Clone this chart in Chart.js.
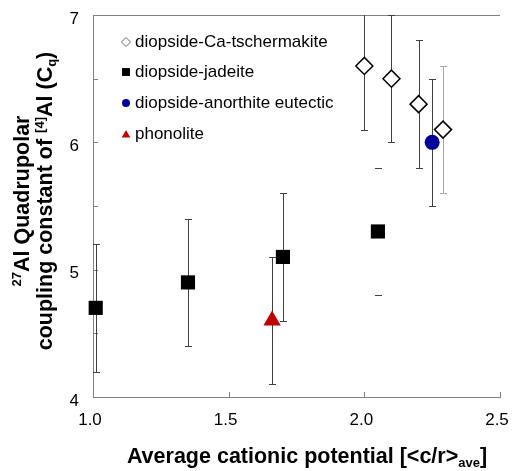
<!DOCTYPE html>
<html><head><meta charset="utf-8">
<script src="https://cdn.jsdelivr.net/npm/chart.js@4/dist/chart.umd.min.js"></script>
<style>html,body{margin:0;padding:0;background:#fff}#wrap{width:512px;height:471px}</style>
</head><body><div id="wrap"><canvas id="c" width="512" height="471"></canvas></div>
<script>
const seriesLabels = ['diopside-Ca-tschermakite', 'diopside-jadeite', 'diopside-anorthite eutectic', 'phonolite'];
const ctsX = [2.00, 2.10, 2.20, 2.29];
const ctsY = [6.6, 6.5, 6.3, 6.1];
const ctsErr = [0.5, 0.5, 0.5, 0.5];
const jadX = [1.01, 1.35, 1.70, 2.05];
const jadY = [4.7, 4.9, 5.1, 5.3];
const jadErr = [0.5, 0.5, 0.5, 0.5];
const anX = [2.25];
const anY = [6.0];
const anErr = [0.5];
const phX = [1.66];
const phY = [4.6];
const phErr = [0.5];
const xTickLabels = ['1.0', '1.5', '2.0', '2.5'];
const yTickLabels = ['4', '5', '6', '7'];

const pts = (xs, ys) => xs.map((v, i) => ({x: v, y: ys[i]}));
const FONT = '"Liberation Sans", Arial, sans-serif';
const AXIS_COL = '#808080';

const datasets = [
  {label: seriesLabels[0], data: pts(ctsX, ctsY), errors: ctsErr,
   errColors: [null, null, null, '#a6a6a6'],
   pointStyle: 'rectRot', pointRadius: 8.5, backgroundColor: '#ffffff', borderColor: '#000000', borderWidth: 1.5,
   legendStyle: {pointStyle: 'rectRot', radius: 4.5, fill: '#ffffff', stroke: '#666666', borderWidth: 1}},
  {label: seriesLabels[1], data: pts(jadX, jadY), errors: jadErr,
   noStem: [false, false, false, true],
   pointStyle: 'rect', pointRadius: 10, backgroundColor: '#000000', borderColor: '#000000', borderWidth: 0,
   legendStyle: {pointStyle: 'rect', radius: 5.6, fill: '#000000', stroke: '#000000', borderWidth: 0}},
  {label: seriesLabels[2], data: pts(anX, anY), errors: anErr,
   pointStyle: 'circle', pointRadius: 7.5, backgroundColor: '#00009c', borderColor: '#00009c', borderWidth: 0,
   legendStyle: {pointStyle: 'circle', radius: 4, fill: '#00009c', stroke: '#00009c', borderWidth: 0}},
  {label: seriesLabels[3], data: pts(phX, phY), errors: phErr,
   pointStyle: 'triangle', pointRadius: 10, backgroundColor: '#c00000', borderColor: '#c00000', borderWidth: 0,
   legendStyle: {pointStyle: 'triangle', radius: 5, fill: '#c00000', stroke: '#c00000', borderWidth: 0}}
].map(d => Object.assign(d, {clip: false}));

function drawRich(ctx, parts, base, cx, cy) {
  const fontFor = m => (m === 'n' ? `bold ${base}px ${FONT}` : `bold ${Math.round(base * 0.62)}px ${FONT}`);
  let total = 0;
  const widths = parts.map(p => { ctx.font = fontFor(p.mode); const w = ctx.measureText(p.t).width; total += w; return w; });
  let x = cx - total / 2;
  ctx.textBaseline = 'alphabetic';
  ctx.textAlign = 'left';
  parts.forEach((p, i) => {
    ctx.font = fontFor(p.mode);
    let dy = 0;
    if (p.mode === 'sup') dy = -base * 0.36;
    if (p.mode === 'sub') dy = base * 0.2;
    ctx.fillText(p.t, x, cy + dy);
    x += widths[i];
  });
}

const decorPlugin = {
  id: 'decor',
  beforeDatasetsDraw(chart) {
    const {ctx, chartArea: a, scales: {x, y}} = chart;
    ctx.save();
    ctx.strokeStyle = AXIS_COL;
    ctx.lineWidth = 1;
    ctx.beginPath();
    ctx.moveTo(a.left, Math.round(a.top) + 0.5);
    ctx.lineTo(a.right, Math.round(a.top) + 0.5);
    y.ticks.forEach(t => {
      const py = Math.round(y.getPixelForValue(t.value)) + 0.5;
      ctx.moveTo(a.left, py); ctx.lineTo(a.left + 5, py);
    });
    x.ticks.forEach(t => {
      const px = Math.round(x.getPixelForValue(t.value)) + 0.5;
      ctx.moveTo(px, a.bottom); ctx.lineTo(px, a.bottom - 5);
    });
    ctx.stroke();
    ctx.beginPath();
    ctx.rect(a.left - 10, a.top, a.right - a.left + 10, a.bottom - a.top);
    ctx.clip();
    chart.data.datasets.forEach(ds => {
      ds.data.forEach((p, i) => {
        const e = ds.errors[i];
        const px = Math.round(x.getPixelForValue(p.x)) + 0.5;
        const yt = Math.round(y.getPixelForValue(p.y + e)) + 0.5;
        const yb = Math.round(y.getPixelForValue(p.y - e)) + 0.5;
        ctx.strokeStyle = (ds.errColors && ds.errColors[i]) || '#404040';
        ctx.lineWidth = 1;
        ctx.beginPath();
        if (!(ds.noStem && ds.noStem[i])) { ctx.moveTo(px, yt); ctx.lineTo(px, yb); }
        ctx.moveTo(px - 3.5, yt); ctx.lineTo(px + 3.5, yt);
        ctx.moveTo(px - 3.5, yb); ctx.lineTo(px + 3.5, yb);
        ctx.stroke();
      });
    });
    ctx.restore();
  },
  afterDraw(chart) {
    const {ctx} = chart;
    ctx.save();
    const rows = [42, 72, 103, 134];
    chart.data.datasets.forEach((ds, i) => {
      const s = ds.legendStyle;
      ctx.fillStyle = s.fill; ctx.strokeStyle = s.stroke; ctx.lineWidth = s.borderWidth;
      Chart.helpers.drawPoint(ctx, {pointStyle: s.pointStyle, radius: s.radius, rotation: 0, borderWidth: s.borderWidth}, 126, rows[i] + (s.pointStyle === 'triangle' ? 1 : 0));
      ctx.fillStyle = '#000';
      ctx.font = `17px ${FONT}`;
      ctx.textAlign = 'left';
      ctx.textBaseline = 'middle';
      ctx.fillText(ds.label, 135, rows[i]);
    });
    ctx.fillStyle = '#000';
    drawRich(ctx, [{t: 'Average cationic potential [<c/r>', mode: 'n'}, {t: 'ave', mode: 'sub'}, {t: ']', mode: 'n'}], 21.5, 307, 463);
    ctx.save();
    ctx.translate(29, 201);
    ctx.rotate(-Math.PI / 2);
    drawRich(ctx, [{t: '27', mode: 'sup'}, {t: 'Al Quadrupolar', mode: 'n'}], 21.5, 0, 0);
    ctx.restore();
    ctx.save();
    ctx.translate(52, 201);
    ctx.rotate(-Math.PI / 2);
    drawRich(ctx, [{t: 'coupling constant of ', mode: 'n'}, {t: '[4]', mode: 'sup'}, {t: 'Al (C', mode: 'n'}, {t: 'q', mode: 'sub'}, {t: ')', mode: 'n'}], 21.5, 0, 0);
    ctx.restore();
    ctx.restore();
  }
};

new Chart(document.getElementById('c'), {
  type: 'scatter',
  data: {datasets},
  options: {
    responsive: false,
    animation: false,
    layout: {padding: {left: 0, top: 15, right: 12, bottom: 0}},
    plugins: {legend: {display: false}, tooltip: {enabled: false}},
    scales: {
      x: {
        type: 'linear', min: 1.0, max: 2.5,
        afterFit(s) { s.height = 74; s.paddingLeft = 0; s.paddingRight = 0; },
        grid: {display: false, drawTicks: false},
        border: {display: true, color: AXIS_COL, width: 1},
        ticks: {stepSize: 0.5, autoSkip: false, maxRotation: 0, padding: 13, labelOffset: -3, color: '#000',
          font: {family: FONT, size: 17},
          callback: v => { const l = xTickLabels.find(s => Math.abs(parseFloat(s) - v) < 1e-6); return l === undefined ? '' : l; }}
      },
      y: {
        type: 'linear', min: 4, max: 7,
        afterFit(s) { s.width = 93; s.paddingTop = 0; s.paddingBottom = 0; },
        grid: {display: false, drawTicks: false},
        border: {display: true, color: AXIS_COL, width: 1},
        ticks: {stepSize: 0.5, autoSkip: false, padding: 14, labelOffset: 4, color: '#000',
          font: {family: FONT, size: 17},
          callback: v => { const l = yTickLabels.find(s => Math.abs(parseFloat(s) - v) < 1e-6); return l === undefined ? '' : l; }}
      }
    }
  },
  plugins: [decorPlugin]
});
</script>
</body></html>
